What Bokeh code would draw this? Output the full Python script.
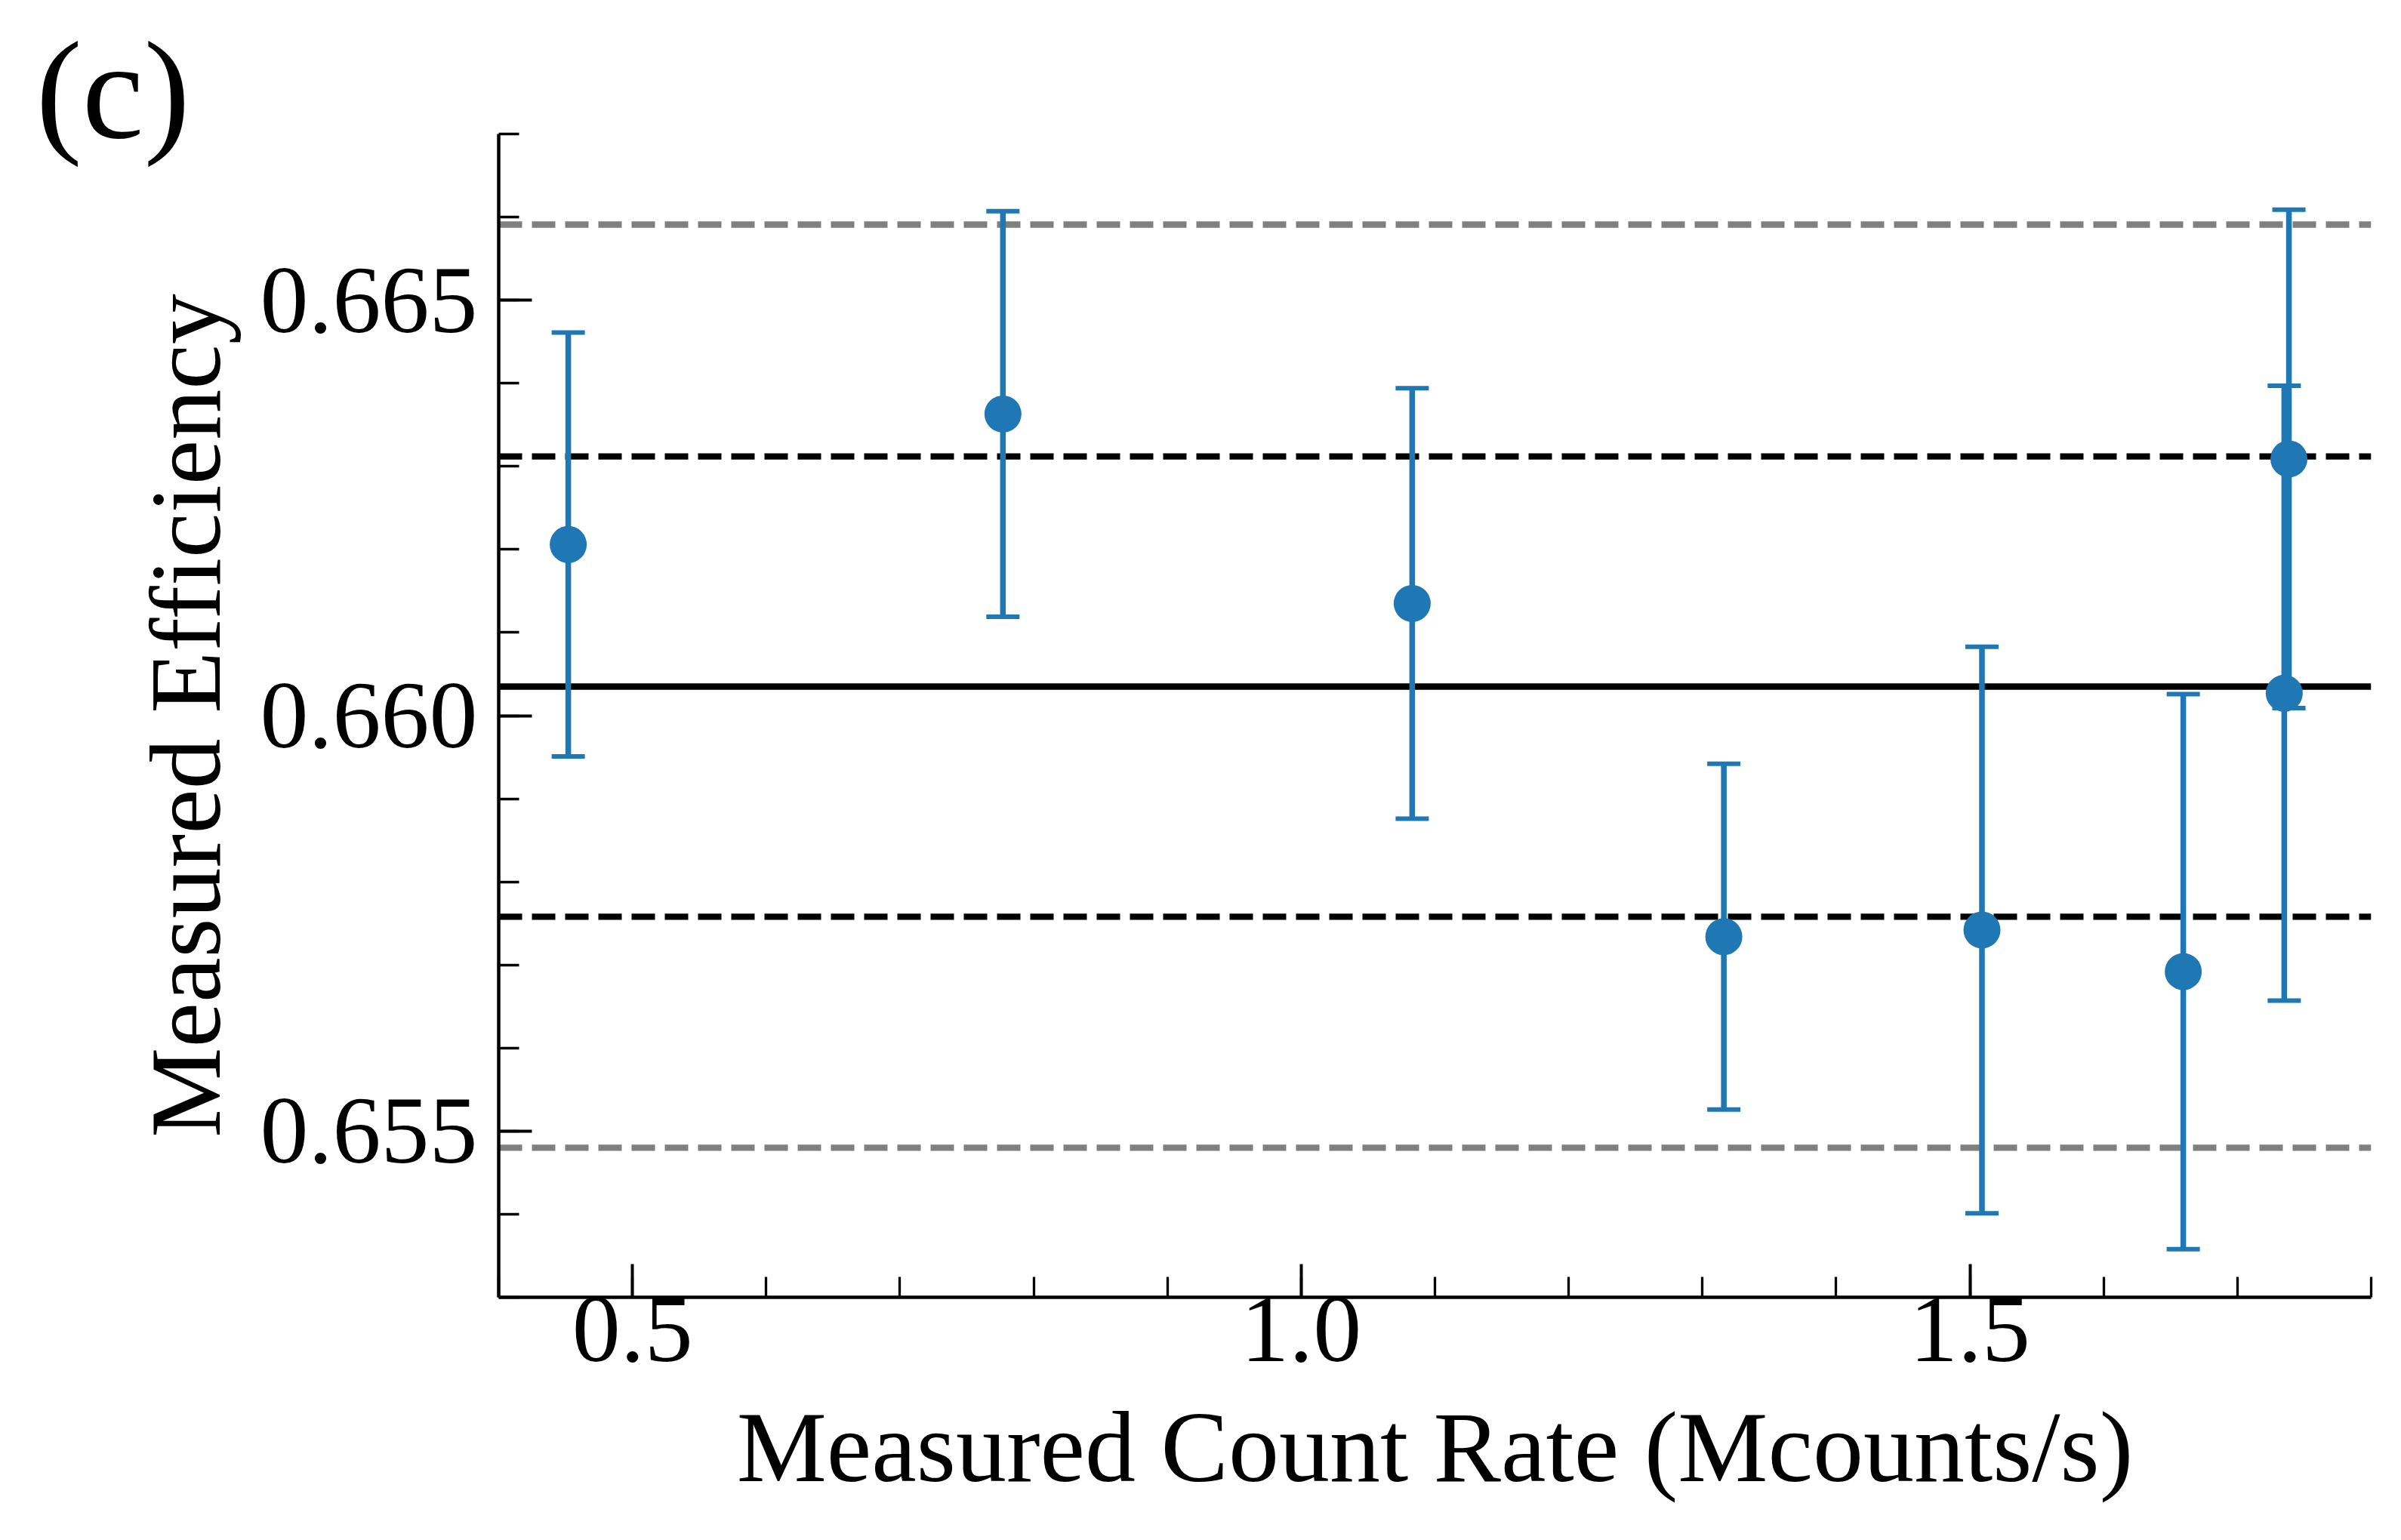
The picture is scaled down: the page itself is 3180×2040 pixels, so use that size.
from bokeh.plotting import figure
from bokeh.models import (ColumnDataSource, Range1d, FixedTicker, PrintfTickFormatter,
                          Whisker, TeeHead)
from bokeh.embed import file_html
from bokeh.resources import INLINE

# ---- data ----
count_rate = [0.452, 0.777, 1.083, 1.316, 1.509, 1.6595, 1.7385, 1.735]
efficiency = [0.66206, 0.66363, 0.66135, 0.65734, 0.65742, 0.65692, 0.66309, 0.66027]
eff_err = [0.00255, 0.00244, 0.00259, 0.00208, 0.00341, 0.00334, 0.00300, 0.00370]

# horizontal reference lines: +2 sigma, +1 sigma, mean, -1 sigma, -2 sigma
ref_levels = [0.66591, 0.66312, 0.66035, 0.65758, 0.65480]
ref_colors = ["#808080", "black", "black", "black", "#808080"]
ref_dashes = ["31 13", "31 13", "solid", "31 13", "31 13"]

x_major = [0.5, 1.0, 1.5]
x_minor = [0.4, 0.5, 0.6, 0.7, 0.8, 0.9, 1.0, 1.1, 1.2, 1.3, 1.4, 1.5, 1.6, 1.7, 1.8]
y_major = [0.655, 0.660, 0.665]
y_minor = [0.653, 0.654, 0.655, 0.656, 0.657, 0.658, 0.659, 0.660,
           0.661, 0.662, 0.663, 0.664, 0.665, 0.666, 0.667]
x_limits = (0.4, 1.8)
y_limits = (0.653, 0.667)

BLUE = "#1f77b4"
FONT = "Liberation Serif"

W, H = 3172, 2032
p = figure(width=W, height=H, output_backend="svg", toolbar_location=None,
           x_range=Range1d(*x_limits), y_range=Range1d(*y_limits),
           min_border_left=660, min_border_right=32, min_border_top=177,
           min_border_bottom=314, background_fill_color="white",
           border_fill_color="white")
p.outline_line_color = None
p.xgrid.visible = False
p.ygrid.visible = False

# panel tag "(c)" as the plot title, pulled to the top-left corner
p.title.text = "(c)"
p.title.align = "left"
p.title.vertical_align = "bottom"
p.title.offset = -613
p.title.standoff = -88
p.title.text_font = FONT
p.title.text_font_size = "184px"
p.title.text_font_style = "normal"
p.title.text_color = "black"

# reference lines
for lev, col, dash in zip(ref_levels, ref_colors, ref_dashes):
    p.line(x=list(x_limits), y=[lev, lev], line_color=col, line_width=8.3,
           line_dash=dash)

# error bars
src = ColumnDataSource(dict(
    x=count_rate, y=efficiency,
    upper=[v + e for v, e in zip(efficiency, eff_err)],
    lower=[v - e for v, e in zip(efficiency, eff_err)],
))
wh = Whisker(base="x", upper="upper", lower="lower", source=src,
             line_color=BLUE, line_width=7.5, level="glyph",
             upper_head=TeeHead(size=44, line_color=BLUE, line_width=6),
             lower_head=TeeHead(size=44, line_color=BLUE, line_width=6))
p.add_layout(wh)

p.scatter(x="x", y="y", source=src, marker="circle", size=49,
          fill_color=BLUE, line_color=None)

# axes styling
for ax, major, minor, fmt in ((p.xaxis[0], x_major, x_minor, "%.1f"),
                              (p.yaxis[0], y_major, y_minor, "%.3f")):
    ax.ticker = FixedTicker(ticks=major, minor_ticks=minor)
    ax.formatter = PrintfTickFormatter(format=fmt)
    ax.axis_line_width = 4.5
    ax.axis_line_color = "black"
    ax.major_tick_in = 44
    ax.major_tick_out = 0
    ax.minor_tick_in = 27
    ax.minor_tick_out = 0
    ax.major_tick_line_width = 4
    ax.minor_tick_line_width = 3.3
    ax.major_tick_line_color = "black"
    ax.minor_tick_line_color = "black"
    ax.major_label_text_font = FONT
    ax.major_label_text_font_size = "128px"
    ax.major_label_text_color = "black"
    ax.axis_label_text_font = FONT
    ax.axis_label_text_font_size = "134px"
    ax.axis_label_text_font_style = "normal"
    ax.axis_label_text_color = "black"

p.xaxis.axis_label = "Measured Count Rate (Mcounts/s)"
p.yaxis.axis_label = "Measured Efficiency"
p.xaxis.major_label_standoff = 0
p.xaxis.axis_label_standoff = 37
p.yaxis.major_label_standoff = 28
p.yaxis.axis_label_standoff = 22

open("out.html", "w").write(file_html(p, INLINE))
